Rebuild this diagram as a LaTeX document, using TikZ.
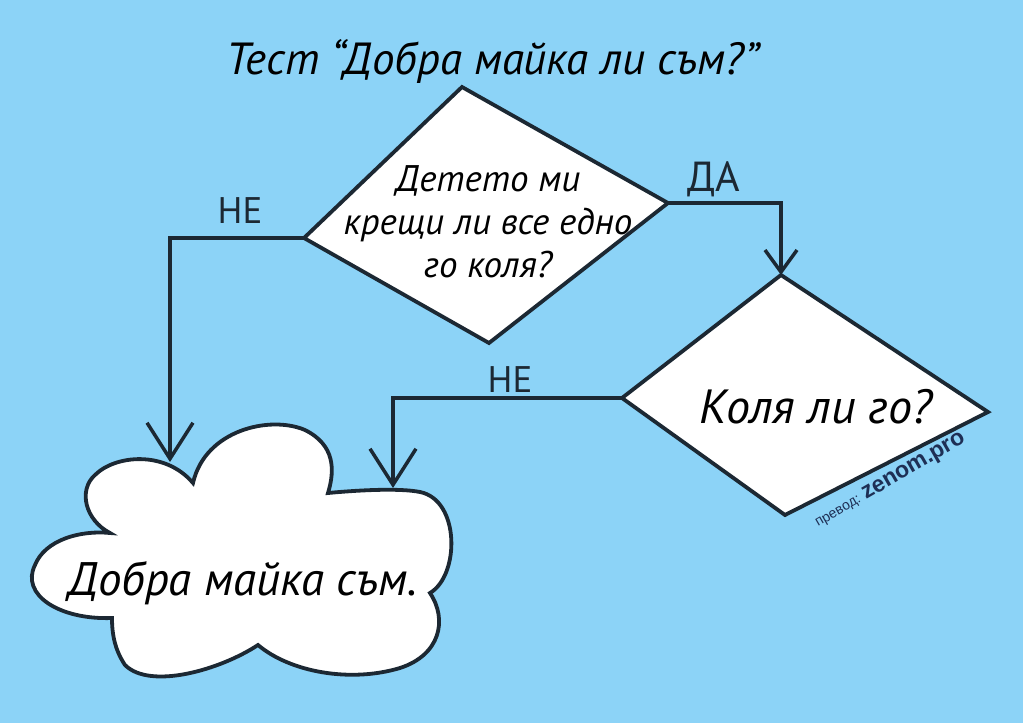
\documentclass[tikz,border=0pt]{standalone}
\usepackage{fontspec}
\setmainfont{PT Sans}
\setsansfont{Liberation Sans}
\usetikzlibrary{arrows.meta, positioning}
\definecolor{sky}{HTML}{8CD3F7}
\definecolor{ink}{HTML}{1C2833}
\definecolor{stamp}{HTML}{1E2F55}
\tikzset{
	x=1pt, y=-1pt, % one unit is one pixel of the sketch, y runs down
	line join=round,
	>={Straight Barb[length=36pt,width=46pt]}, % open hand drawn heads
	flow/.style={->, draw=ink, line width=3.5pt}, % arrows between the boxes
	small head/.style={-{Straight Barb[length=22pt,width=32pt]}},
	question/.style={draw=ink, fill=white, line width=3.8pt}, % the diamonds
	bubble/.style={draw=ink, fill=white, line width=3.8pt}, % the cloud
	hand/.style={font=\itshape\fontsize{37}{43}\selectfont, align=center, inner sep=0pt},
	answer/.style={font=\fontsize{37}{37}\selectfont, text=ink, inner sep=0pt, anchor=base},
	credit/.style={rotate=30, font=\sffamily, text=stamp, inner sep=0pt, anchor=base west},
}

\begin{document}
\begin{tikzpicture}
	\fill[sky] (0,0) rectangle (1023,723);
	\useasboundingbox (0,0) rectangle (1023,723);

	\node[hand, font=\itshape\fontsize{45}{50}\selectfont, anchor=base] (title) at (493,74) {Тест “Добра майка ли съм?”};

	% first question
	\coordinate (q1t) at (462,87);
	\coordinate (q1r) at (668,203);
	\coordinate (q1b) at (489,343);
	\coordinate (q1l) at (304,238);
	\draw[question] (q1t) -- (q1r) -- (q1b) -- (q1l) -- cycle;
	\node[hand] (q1) at (488,222) {Детето ми\\крещи ли все едно\\го коля?};

	% second question
	\coordinate (q2t) at (781,275);
	\coordinate (q2r) at (988,412);
	\coordinate (q2b) at (785,515);
	\coordinate (q2l) at (622,398);
	\draw[question] (q2t) -- (q2r) -- (q2b) -- (q2l) -- cycle;
	\node[hand, font=\itshape\fontsize{48}{50}\selectfont, anchor=base] (q2) at (816,423) {Коля ли го?};

	% the cloud
	\draw[bubble] (110,533)
		.. controls (85,520) and (78,490) .. (95,475)
		.. controls (115,455) and (165,450) .. (193,483)
		.. controls (205,430) and (270,415) .. (305,430)
		.. controls (335,445) and (335,470) .. (328,493)
		.. controls (360,490) and (400,488) .. (420,492)
		.. controls (460,500) and (460,575) .. (430,593)
		.. controls (448,620) and (440,655) .. (400,668)
		.. controls (350,683) and (290,672) .. (258,645)
		.. controls (220,670) and (150,690) .. (125,665)
		.. controls (115,650) and (112,635) .. (112,618)
		.. controls (60,620) and (20,595) .. (35,565)
		.. controls (45,540) and (80,530) .. (110,533) -- cycle;
	\node[hand, font=\itshape\fontsize{47}{50}\selectfont, anchor=base] (good) at (243,595) {Добра майка съм.};

	% arrow ends on the cloud
	\coordinate (in1) at (170,462);
	\coordinate (in2) at (393,488);

	\draw[flow] (q1l) -| (in1);
	\draw[flow, small head] (q1r) -| (q2t);
	\draw[flow] (q2l) -| (in2);

	\node[answer] (no1) at (240,223) {НЕ};
	\node[answer, font=\fontsize{42}{42}\selectfont] (yes) at (714,191) {ДА};
	\node[answer] (no2) at (510,392) {НЕ};

	% translator's stamp
	\node[credit, font=\sffamily\fontsize{14}{14}\selectfont] (by) at (818,527) {превод:};
	\node[credit, font=\sffamily\bfseries\fontsize{23}{23}\selectfont] (site) at (866,500) {zenom.pro};
\end{tikzpicture}
\end{document}
